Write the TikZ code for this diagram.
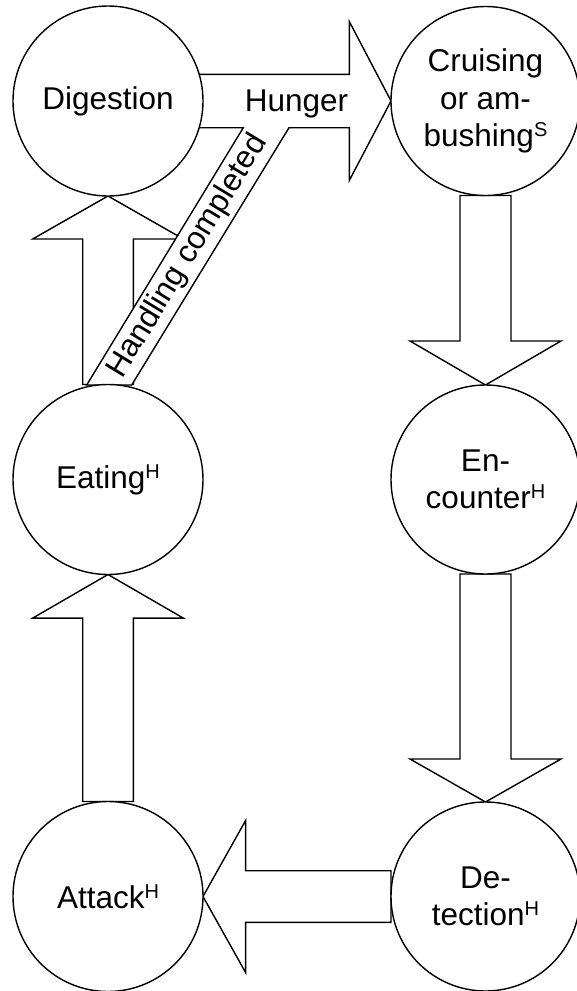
\documentclass[tikz,border=0pt]{standalone}
\usepackage{fontspec}
\setmainfont{Liberation Sans}
\usetikzlibrary{calc,backgrounds}
\newcommand\supx[1]{\raisebox{10pt}{\fontsize{20}{20}\selectfont #1}}
% block arrow: #1 start, #2 tip, #3 shaft half width, #4 head half width, #5 head length
\newcommand\blockarr[5]{%
  \path ($(#2)!#5!(#1)$) coordinate (hb);
  \draw[blk] ($(#1)!#3!90:(#2)$) -- ($(hb)!#3!-90:(#1)$) -- ($(hb)!#4!-90:(#1)$) -- (#2)
    -- ($(hb)!#4!90:(#1)$) -- ($(hb)!#3!90:(#1)$) -- ($(#1)!#3!-90:(#2)$) -- cycle;
}
\begin{document}
\begin{tikzpicture}[x=1pt,y=-1pt, line width=1.4pt,
  state/.style={circle, draw=black, fill=white, line width=1.4pt, inner sep=0pt, outer sep=0pt,
    align=center, font=\fontsize{31.5}{37.5}\selectfont},
  blk/.style={draw=black, fill=white, line width=1.4pt, line join=miter},
  lbl/.style={font=\fontsize{31.5}{37.5}\selectfont, inner sep=0pt, text=black}]
\useasboundingbox (0,0) rectangle (576,991);
\node[state, minimum size=190pt] (dig) at (108,101) {Digestion};
\node[state, minimum size=189pt] (cru) at (485.5,101) {Cruising\\or am-\\bushing\supx{S}};
\node[state, minimum size=190pt] (eat) at (108,479.5) {Eating\supx{H}};
\node[state, minimum size=189pt] (enc) at (485.5,479.5) {En-\\counter\supx{H}};
\node[state, minimum size=190pt] (att) at (108,896.5) {Attack\supx{H}};
\node[state, minimum size=189pt] (det) at (485.5,896.5) {De-\\tection\supx{H}};
\begin{pgfonlayer}{background}
\blockarr{eat.north}{dig.south}{25.3pt}{75.3pt}{43pt}
\draw[blk] (192,74.3) -- (349.3,74.3) -- (349.3,21.5) -- (cru.west) -- (349.3,180.5)
  -- (349.3,127.7) -- (289,127.7) -- (131.7,385) -- (86.7,385) -- (243.3,127.7)
  -- (192,127.7) -- cycle;
\node[lbl, rotate=58.6] (hc) at (187.7,256.3) {Handling completed};
\node[lbl, anchor=base] (hu) at (296.5,111) {Hunger};
\blockarr{cru.south}{enc.north}{25.5pt}{75.5pt}{44pt}
\blockarr{enc.south}{det.north}{25.5pt}{75.5pt}{43pt}
\blockarr{det.west}{att.east}{25.8pt}{76pt}{42.6pt}
\blockarr{att.north}{eat.south}{25.3pt}{75.3pt}{43.6pt}
\end{pgfonlayer}
\end{tikzpicture}
\end{document}
